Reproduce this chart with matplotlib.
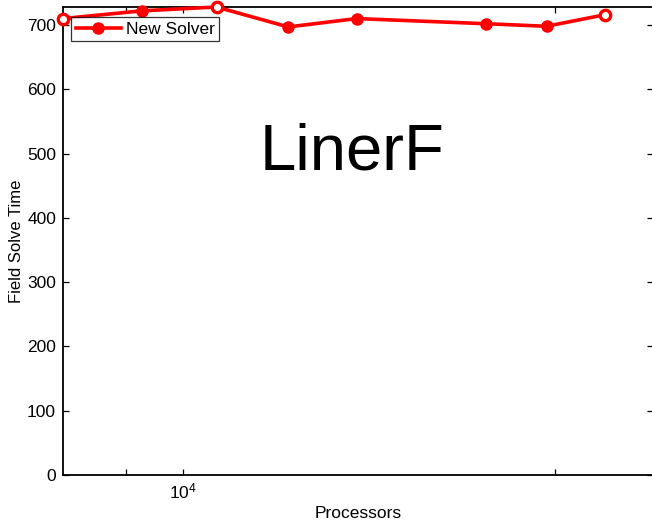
import numpy as np
import matplotlib
matplotlib.use("Agg")
import matplotlib.pyplot as plt
from matplotlib.ticker import FixedLocator, NullFormatter, FixedFormatter

plt.rcParams["font.family"] = ["Liberation Sans", "DejaVu Sans"]
plt.rcParams["mathtext.fontset"] = "custom"
plt.rcParams["mathtext.rm"] = "Liberation Sans"
plt.rcParams["mathtext.it"] = "Liberation Sans"

# processor counts (cubes) and field solve times
processors = [8000, 9261, 10648, 12167, 13824, 17576, 19683, 21952]
solve_time = [710, 722, 728, 697, 710, 702, 698, 716]
open_idx = [0, 2, 7]

fig = plt.figure(figsize=(6.52, 5.25), dpi=100)
ax = fig.add_axes([63 / 652, 50 / 525, 590 / 652, 468 / 525])

red = "#ff0000"
ax.plot(processors, solve_time, color=red, lw=2.6, marker="o", ms=8,
        mfc=red, mec=red, label="New Solver", clip_on=False, zorder=3)
ax.plot([processors[i] for i in open_idx], [solve_time[i] for i in open_idx],
        ls="none", marker="o", ms=7.5, mfc="white", mec=red, mew=2.4,
        clip_on=False, zorder=4)

ax.set_xscale("log")
ax.set_xlim(8000, 24000)
ax.set_ylim(0, max(solve_time))

ax.xaxis.set_major_locator(FixedLocator([1e4]))
ax.xaxis.set_major_formatter(FixedFormatter([r"$10^4$"]))
ax.xaxis.set_minor_locator(FixedLocator([9000, 20000]))
ax.xaxis.set_minor_formatter(NullFormatter())
ax.set_yticks([0, 100, 200, 300, 400, 500, 600, 700])

ax.tick_params(which="both", direction="in", top=True, right=True,
               labelsize=12.5, length=4, width=0.9, pad=5)
for s in ax.spines.values():
    s.set_linewidth(1.3)

ax.set_xlabel("Processors", fontsize=12.5, labelpad=3)
ax.set_ylabel("Field Solve Time", fontsize=12, labelpad=2)

ax.text(0.49, 0.69, "LinerF", transform=ax.transAxes, fontsize=47,
        ha="center", va="center")

leg = ax.legend(loc="upper left", bbox_to_anchor=(0.008, 0.985), fontsize=12.5,
                frameon=True, fancybox=False, edgecolor="black",
                handlelength=2.6, borderpad=0.25, borderaxespad=0.2,
                handletextpad=0.3)
leg.get_frame().set_linewidth(0.9)

fig.savefig("out.png", dpi=100)
